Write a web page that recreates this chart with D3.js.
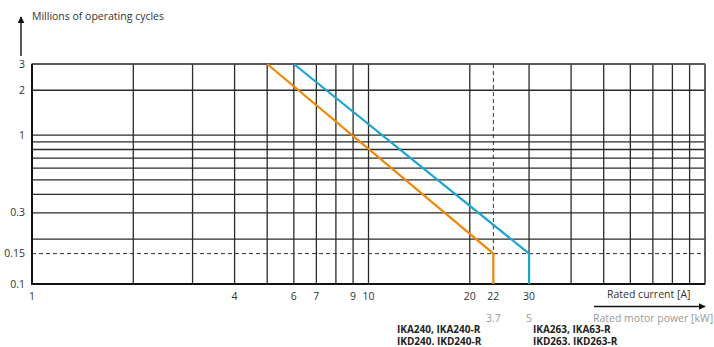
<!DOCTYPE html>
<html>
<head>
<meta charset="utf-8">
<script src="https://cdn.jsdelivr.net/npm/d3@7"></script>
<style>
  body { margin: 0; background: #fff; }
  svg { font-family: "Open Sans", sans-serif; }
</style>
</head>
<body>
<div class="chart"></div>
<script>
// grid values (log axes)
var xGrid = [1, 2, 3, 4, 5, 6, 7, 8, 9, 10, 20, 30, 40, 50, 60, 70, 80, 90, 100];
var yGrid = [0.1, 0.2, 0.3, 0.4, 0.5, 0.6, 0.7, 0.8, 0.9, 1, 2, 3];

// tick labels
var xTicks = [1, 4, 6, 7, 9, 10, 20, 23.5, 30];
var xTickLabels = ["1", "4", "6", "7", "9", "10", "20", "22", "30"];
var yTicks = [0.1, 0.16, 0.3, 1, 2, 3];
var yTickLabels = ["0.1", "0.15", "0.3", "1", "2", "3"];

// motor power labels under the current axis
var powerAt = [23.5, 30];
var powerLabels = ["3.7", "5"];

// curves: [rated current, millions of cycles]
var seriesIKA240 = [[5, 3], [23.5, 0.16], [23.5, 0.1]];
var seriesIKA263 = [[6, 3], [30, 0.16], [30, 0.1]];

var svgWidth = 714, svgHeight = 347;
var margin = { top: 64, right: 9, bottom: 63, left: 32 };
var width = svgWidth - margin.left - margin.right;
var height = svgHeight - margin.top - margin.bottom;

var svg = d3.select(".chart").append("svg")
  .attr("width", svgWidth)
  .attr("height", svgHeight);

var chartGroup = svg.append("g")
  .attr("transform", `translate(${margin.left}, ${margin.top})`);

var x = d3.scaleLog().domain([1, 100]).range([0, width]);
var y = d3.scaleLog().domain([0.1, 3]).range([height, 0]);

// grid
chartGroup.selectAll(".vgrid")
  .data(xGrid)
  .enter()
  .append("line")
  .attr("x1", d => x(d)).attr("x2", d => x(d))
  .attr("y1", 0).attr("y2", height)
  .attr("stroke", "#2b2b2b")
  .attr("stroke-width", 1.3);

chartGroup.selectAll(".hgrid")
  .data(yGrid)
  .enter()
  .append("line")
  .attr("x1", 0).attr("x2", width)
  .attr("y1", d => y(d)).attr("y2", d => y(d))
  .attr("stroke", "#2b2b2b")
  .attr("stroke-width", 1.3);

// frame
chartGroup.append("rect")
  .attr("width", width).attr("height", height)
  .attr("fill", "none")
  .attr("stroke", "#555")
  .attr("stroke-width", 1.3);

chartGroup.append("path")
  .attr("d", `M0,0V${height}H${width}`)
  .attr("fill", "none")
  .attr("stroke", "#111")
  .attr("stroke-width", 2);

// dashed reference lines
chartGroup.append("line")
  .attr("x1", 0).attr("x2", width)
  .attr("y1", y(0.16)).attr("y2", y(0.16))
  .attr("stroke", "#333")
  .attr("stroke-dasharray", "4,3");

chartGroup.append("line")
  .attr("x1", x(23.5)).attr("x2", x(23.5))
  .attr("y1", 0).attr("y2", height)
  .attr("stroke", "#333")
  .attr("stroke-dasharray", "4,3");

// curves
var line = d3.line()
  .x(d => x(d[0]))
  .y(d => y(d[1]));

chartGroup.append("path")
  .datum(seriesIKA240)
  .attr("d", line)
  .attr("fill", "none")
  .attr("stroke", "#f28705")
  .attr("stroke-width", 2.2);

chartGroup.append("path")
  .datum(seriesIKA263)
  .attr("d", line)
  .attr("fill", "none")
  .attr("stroke", "#1aa5d4")
  .attr("stroke-width", 2.2);

// tick labels
chartGroup.selectAll(".xlabel")
  .data(xTicks)
  .enter()
  .append("text")
  .attr("x", d => x(d))
  .attr("y", height + 16)
  .attr("text-anchor", "middle")
  .attr("font-size", 10.5)
  .attr("fill", "#333")
  .text((d, i) => xTickLabels[i]);

chartGroup.selectAll(".ylabel")
  .data(yTicks)
  .enter()
  .append("text")
  .attr("x", -7)
  .attr("y", d => y(d) + 3.5)
  .attr("text-anchor", "end")
  .attr("font-size", 10.5)
  .attr("fill", "#333")
  .text((d, i) => yTickLabels[i]);

chartGroup.selectAll(".plabel")
  .data(powerAt)
  .enter()
  .append("text")
  .attr("x", d => x(d))
  .attr("y", height + 38)
  .attr("text-anchor", "middle")
  .attr("font-size", 10.5)
  .attr("fill", "#999")
  .text((d, i) => powerLabels[i]);

// axis titles
svg.append("defs").append("marker")
  .attr("id", "arrow")
  .attr("viewBox", "0 0 10 10")
  .attr("refX", 9).attr("refY", 5)
  .attr("markerWidth", 5).attr("markerHeight", 5)
  .attr("orient", "auto")
  .append("path")
  .attr("d", "M0,0L10,5L0,10z")
  .attr("fill", "#111");

svg.append("line")
  .attr("x1", 21).attr("x2", 21)
  .attr("y1", 56).attr("y2", 17)
  .attr("stroke", "#111")
  .attr("stroke-width", 1.4)
  .attr("marker-end", "url(#arrow)");

svg.append("text")
  .attr("x", 32).attr("y", 20)
  .attr("font-size", 10.5)
  .attr("fill", "#333")
  .text("Millions of operating cycles");

svg.append("text")
  .attr("x", 607).attr("y", 298)
  .attr("font-size", 10.5)
  .attr("fill", "#333")
  .text("Rated current [A]");

svg.append("line")
  .attr("x1", 594).attr("x2", 705)
  .attr("y1", 306.5).attr("y2", 306.5)
  .attr("stroke", "#111")
  .attr("stroke-width", 1.4)
  .attr("marker-end", "url(#arrow)");

svg.append("text")
  .attr("x", 593).attr("y", 322)
  .attr("font-size", 10.5)
  .attr("fill", "#999")
  .text("Rated motor power [kW]");

// device names
var names = svg.append("g")
  .attr("font-size", 10)
  .attr("font-weight", "bold")
  .attr("fill", "#222");

names.append("text").attr("x", 397).attr("y", 333).text("IKA240, IKA240-R");
names.append("text").attr("x", 397).attr("y", 345).text("IKD240. IKD240-R");
names.append("text").attr("x", 533).attr("y", 333).text("IKA263, IKA63-R");
names.append("text").attr("x", 533).attr("y", 345).text("IKD263. IKD263-R");
</script>
</body>
</html>
